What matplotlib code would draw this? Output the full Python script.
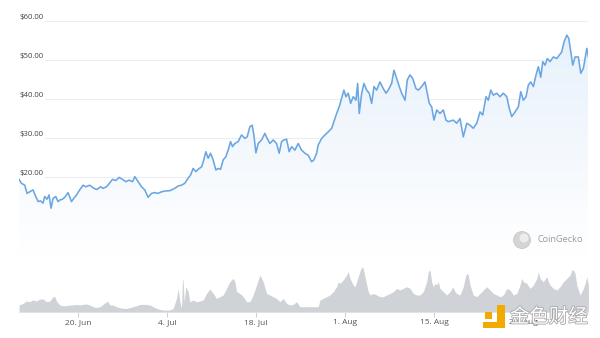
import numpy as np
import pandas as pd
import matplotlib
matplotlib.use("Agg")
import matplotlib.pyplot as plt
import matplotlib.dates as mdates
import matplotlib.patheffects as pe
from matplotlib.patches import PathPatch, Rectangle, Ellipse
from matplotlib.colors import LinearSegmentedColormap

plt.rcParams['font.family'] = ['Open Sans', 'DejaVu Sans']

# price, days since 20 Jun
price_days = [
    -9.23, -8.85, -8.33, -7.97, -7.55, -7.03, -6.60, -6.24, -5.86, -5.46,
    -5.19, -4.83, -4.51, -4.20, -3.88, -3.46, -3.10, -2.83, -2.41, -2.04,
    -1.53, -0.99, -0.63, -0.20, 0.31, 0.83, 1.26, 1.89, 2.52, 3.03,
    3.57, 3.98, 4.51, 5.03, 5.46, 5.97, 6.49, 7.03, 7.55, 8.07,
    8.60, 8.96, 9.48, 10.02, 10.53, 11.05, 11.59, 12.11, 12.63, 13.16,
    13.68, 14.47, 15.25, 15.77, 16.30, 16.82, 17.34, 17.72, 18.13, 18.55,
    18.92, 19.45, 19.81, 20.13, 20.49, 20.86, 21.27, 21.70, 22.06, 22.44,
    22.85, 23.27, 23.63, 24.01, 24.32, 24.69, 25.20, 25.74, 26.26, 26.62,
    27.04, 27.41, 27.67, 27.99, 28.35, 28.88, 29.40, 29.76, 30.19, 30.71,
    31.24, 31.65, 32.03, 32.39, 32.81, 33.22, 33.60, 34.12, 34.64, 35.17,
    35.69, 36.21, 36.75, 37.11, 37.53, 37.78, 38.32, 38.84, 39.36, 39.89,
    40.25, 40.68, 41.08, 41.46, 41.82, 42.14, 42.50, 42.88, 43.29, 43.71,
    43.98, 44.23, 44.61, 44.97, 45.39, 45.80, 46.18, 46.54, 46.96, 47.48,
    48.00, 48.43, 48.79, 49.32, 49.68, 50.11, 50.52, 50.90, 51.42, 51.78,
    52.20, 52.63, 53.14, 53.51, 54.04, 54.56, 54.92, 55.24, 55.61, 55.97,
    56.40, 56.92, 57.44, 57.86, 58.22, 59.01, 59.54, 60.06, 60.58, 61.12,
    61.64, 62.15, 62.69, 63.21, 63.63, 64.15, 64.51, 64.89, 65.30, 65.83,
    66.35, 66.87, 67.41, 67.81, 68.19, 68.71, 69.23, 69.61, 70.02, 70.44,
    70.80, 71.18, 71.59, 72.01, 72.37, 72.75, 73.07, 73.43, 73.79, 74.21,
    74.73, 75.27, 75.68, 76.05, 76.42, 76.84, 77.15, 77.47, 77.78, 78.14,
    78.66, 79.04, 79.45, 79.72, 79.99, 80.24,
]
price = [
    19.4, 18.4, 17.9, 15.8, 16.2, 16.7, 15.0, 13.7, 13.9, 13.3,
    15.0, 14.3, 15.4, 12.0, 14.5, 15.0, 13.7, 14.1, 14.3, 14.8,
    16.0, 13.7, 14.5, 15.4, 16.7, 17.9, 17.5, 17.9, 17.1, 16.8,
    17.5, 17.1, 17.5, 18.5, 19.4, 19.1, 19.9, 19.4, 18.8, 19.2,
    18.8, 20.1, 18.8, 17.5, 16.7, 14.8, 15.8, 16.0, 15.8, 16.2,
    16.4, 16.5, 17.1, 17.7, 17.9, 18.4, 19.7, 20.5, 22.2, 21.4,
    22.0, 22.6, 24.4, 26.5, 24.8, 26.1, 24.4, 21.8, 22.2, 22.0,
    24.4, 25.2, 26.9, 29.1, 27.8, 28.6, 29.1, 30.8, 29.9, 30.3,
    32.9, 33.3, 30.8, 26.2, 28.6, 29.5, 31.2, 29.9, 28.6, 29.5,
    28.6, 26.1, 29.1, 29.5, 29.7, 26.5, 27.8, 26.9, 28.6, 26.9,
    26.1, 25.6, 23.9, 24.4, 26.1, 28.2, 29.9, 30.8, 31.6, 32.5,
    34.2, 36.3, 38.0, 40.2, 42.3, 40.6, 41.5, 38.9, 40.6, 39.7,
    44.0, 36.3, 41.5, 44.0, 42.3, 41.5, 38.9, 43.2, 42.3, 44.4,
    42.7, 41.5, 42.3, 44.0, 47.4, 45.3, 43.2, 41.5, 39.7, 44.9,
    46.2, 45.3, 42.7, 42.3, 43.2, 44.4, 41.5, 38.9, 38.0, 34.6,
    37.2, 36.3, 37.2, 34.6, 34.2, 34.6, 33.8, 35.0, 30.3, 33.8,
    33.3, 32.5, 33.8, 36.7, 35.9, 40.6, 39.7, 42.3, 41.0, 41.5,
    40.6, 41.5, 40.6, 37.6, 35.5, 36.7, 38.0, 41.9, 39.7, 40.6,
    43.6, 44.4, 43.2, 46.2, 48.3, 45.6, 49.6, 48.7, 50.4, 49.6,
    50.8, 50.4, 51.3, 52.1, 54.7, 56.4, 55.6, 52.1, 48.7, 50.8,
    50.8, 46.6, 47.9, 50.4, 53.0, 50.8,
]

# traded volume (relative), days since 20 Jun
vol_days = [
    -9.23, -8.60, -8.07, -7.55, -7.03, -6.50, -5.97, -5.45, -4.93, -4.40,
    -3.88, -3.62, -3.35, -2.83, -2.31, -1.78, -1.26, -0.74, -0.21, 0.31,
    0.84, 1.36, 1.89, 2.41, 2.93, 3.46, 3.98, 4.51, 4.77, 5.03,
    5.56, 6.08, 6.60, 7.13, 7.65, 8.18, 8.70, 9.22, 9.75, 10.27,
    10.80, 11.32, 11.84, 12.37, 12.89, 13.42, 13.94, 14.47, 14.99, 15.51,
    15.77, 16.04, 16.30, 16.46, 16.56, 16.72, 16.98, 17.35, 17.61, 18.13,
    18.66, 19.18, 19.70, 20.23, 20.75, 21.28, 21.80, 22.33, 22.85, 23.38,
    23.90, 24.42, 24.69, 24.95, 25.47, 26.00, 26.52, 27.04, 27.56, 28.09,
    28.62, 29.14, 29.67, 30.19, 30.71, 31.24, 31.76, 32.28, 32.81, 33.33,
    33.85, 34.38, 34.91, 35.96, 37.00, 37.79, 38.05, 38.57, 39.10, 39.62,
    40.14, 40.67, 40.93, 41.19, 41.72, 42.24, 42.50, 42.77, 43.29, 43.55,
    43.82, 44.23, 44.50, 44.76, 44.97, 45.28, 45.65, 45.91, 46.43, 46.96,
    47.48, 48.00, 48.53, 49.06, 49.58, 50.11, 50.63, 51.15, 51.68, 52.20,
    52.72, 53.25, 53.77, 54.29, 54.83, 55.08, 55.35, 55.61, 55.87, 56.13,
    56.40, 56.65, 56.92, 57.44, 57.97, 58.49, 58.92, 59.28, 59.54, 60.06,
    60.58, 60.85, 61.12, 61.37, 61.64, 62.15, 62.69, 63.21, 63.73, 64.26,
    64.78, 65.30, 65.83, 66.35, 66.87, 67.41, 67.92, 68.44, 68.98, 69.50,
    69.76, 70.02, 70.55, 71.07, 71.59, 72.12, 72.37, 72.64, 73.16, 73.69,
    73.95, 74.21, 74.73, 75.27, 75.79, 76.31, 76.84, 77.36, 77.63, 77.88,
    78.14, 78.41, 78.93, 79.45, 79.72, 79.99, 80.24,
]
volume = [
    6.7, 8.3, 10.7, 10.0, 11.7, 10.7, 12.7, 12.7, 10.0, 10.7,
    15.0, 15.3, 10.7, 6.7, 6.0, 6.0, 6.7, 6.7, 7.3, 6.7,
    7.3, 7.7, 6.7, 5.0, 4.3, 5.0, 7.3, 10.0, 10.0, 6.7,
    6.7, 5.0, 4.0, 3.3, 3.3, 4.0, 5.0, 6.0, 7.3, 7.3,
    7.3, 6.7, 5.0, 3.3, 2.3, 1.7, 1.7, 1.7, 3.3, 13.3,
    23.3, 10.0, 3.3, 31.7, 31.7, 10.0, 25.0, 20.0, 10.0, 11.7,
    10.0, 10.7, 11.7, 18.3, 22.7, 18.3, 13.3, 15.0, 16.7, 23.3,
    30.0, 33.3, 30.0, 20.0, 18.3, 15.0, 10.0, 10.0, 16.7, 26.7,
    36.7, 30.0, 18.3, 16.7, 15.0, 13.3, 10.0, 13.3, 8.3, 6.7,
    7.3, 10.0, 5.0, 5.0, 5.0, 5.0, 11.7, 13.3, 15.0, 16.7,
    20.0, 25.0, 30.0, 28.3, 31.7, 36.7, 40.0, 33.3, 26.7, 25.0,
    30.0, 38.3, 43.3, 45.0, 40.0, 30.0, 20.0, 16.7, 18.3, 16.7,
    15.0, 15.0, 16.7, 18.3, 20.0, 23.3, 21.7, 23.3, 25.0, 23.3,
    18.3, 16.7, 16.7, 20.0, 30.0, 40.0, 41.7, 30.0, 25.0, 28.3,
    26.7, 30.0, 23.3, 20.0, 16.7, 20.0, 25.0, 20.0, 18.3, 16.7,
    25.0, 33.3, 38.3, 36.7, 26.7, 16.7, 15.0, 18.3, 21.7, 25.0,
    21.7, 18.3, 16.7, 15.0, 16.7, 23.3, 21.7, 16.7, 18.3, 26.7,
    33.3, 30.0, 28.3, 23.3, 26.7, 33.3, 40.0, 33.3, 30.0, 35.0,
    30.0, 26.7, 23.3, 21.7, 25.0, 30.0, 33.3, 36.7, 41.7, 41.7,
    38.3, 26.7, 16.7, 23.3, 28.3, 35.0, 26.7,
]

y_ticks = [0, 10, 20, 30, 40, 50, 60]
x_tick_dates = ['2022-06-20', '2022-07-04', '2022-07-18', '2022-08-01',
                '2022-08-15', '2022-08-29']

base = pd.Timestamp('2022-06-20')
t_price = base + pd.to_timedelta(price_days, unit='D')
t_vol = base + pd.to_timedelta(vol_days, unit='D')
x0, x1 = t_price[0], t_price[-1]

fig = plt.figure(figsize=(6, 3.38), dpi=100)
fig.patch.set_facecolor('white')

ax = fig.add_axes([0.0317, 0.2456, 0.949, 0.692])
axv = fig.add_axes([0.0317, 0.0778, 0.949, 0.147], sharex=ax)

line_color = '#6aa6e2'

# price gridlines and labels
for v in y_ticks:
    ax.axhline(v, xmin=0.046, xmax=1, color='#ededed', lw=0.8, zorder=0)
    ax.text(0.0, v, f'${v:.2f}', transform=ax.get_yaxis_transform(),
            ha='left', va='bottom', fontsize=5.6, color='#444444', zorder=1)

# gradient fill under the price line
fill = ax.fill_between(t_price, price, 0, color='none', lw=0)
clip = PathPatch(fill.get_paths()[0], transform=ax.transData,
                 facecolor='none', edgecolor='none')
ax.add_patch(clip)
cmap = LinearSegmentedColormap.from_list('fade', ['#ffffff', '#e6f0fb'])
grad = np.linspace(0, 1, 256).reshape(-1, 1)
im = ax.imshow(grad, cmap=cmap, origin='lower', aspect='auto', zorder=1,
               extent=[mdates.date2num(x0), mdates.date2num(x1), 0, 60])
im.set_clip_path(clip)

ax.plot(t_price, price, color=line_color, lw=1.15, zorder=3,
        solid_joinstyle='round')

ax.set_xlim(x0, x1)
ax.set_ylim(0, 60)
ax.axis('off')

# volume area
axv.fill_between(t_vol, volume, 0, color='#cfd2d6', lw=0)
axv.set_ylim(0, 49.7)
axv.set_xlim(x0, x1)
for s in ['top', 'left', 'right']:
    axv.spines[s].set_visible(False)
axv.spines['bottom'].set_color('#dde0e4')
axv.spines['bottom'].set_linewidth(0.6)
axv.set_yticks([])
axv.set_xticks(pd.to_datetime(x_tick_dates))
axv.xaxis.set_major_formatter(
    plt.FuncFormatter(lambda d, _: f"{mdates.num2date(d).day}. {mdates.num2date(d):%b}"))
axv.tick_params(axis='x', length=3.5, width=0.6, color='#c8ccd1',
                labelsize=6, labelcolor='#555555', pad=2)

# CoinGecko badge
fig.add_artist(Ellipse((522 / 600, 1 - 240 / 338), 17 / 600, 17 / 338,
                       transform=fig.transFigure, facecolor='#d4d4d4',
                       edgecolor='#c4c4c4', lw=0.5))
fig.add_artist(Ellipse((524 / 600, 1 - 238 / 338), 9 / 600, 9 / 338,
                       transform=fig.transFigure, facecolor='#ececec',
                       edgecolor='none'))
fig.text(537 / 600, 1 - 240 / 338, 'CoinGecko', fontsize=6.6,
         color='#9a9a9a', ha='left', va='center')

# watermark
orange = '#f2a900'
for (rx, ry, rw, rh) in [(485, 312, 7, 7), (497, 305, 8, 23), (483, 322, 22, 6)]:
    fig.add_artist(Rectangle((rx / 600, 1 - (ry + rh) / 338), rw / 600, rh / 338,
                             transform=fig.transFigure, facecolor=orange,
                             edgecolor='none', zorder=10))
fig.text(510 / 600, 1 - 317 / 338, '金色财经', fontsize=14,
         family=['Noto Sans CJK SC', 'DejaVu Sans'], color='white',
         ha='left', va='center', zorder=10,
         path_effects=[pe.withStroke(linewidth=1.2, foreground='#a8a8a8')])

fig.savefig('out.png', dpi=100, facecolor='white')
